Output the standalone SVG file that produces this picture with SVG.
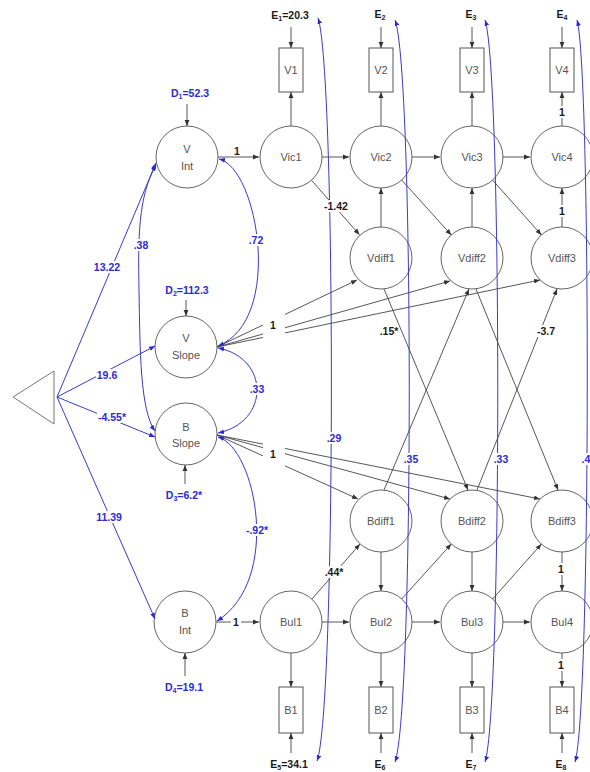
<svg xmlns="http://www.w3.org/2000/svg" width="590" height="772" viewBox="0 0 590 772">
<style>
  .n circle{fill:#fff;stroke:#666;stroke-width:1}
  .n rect{fill:#fff;stroke:#555;stroke-width:1}
  .n polygon{fill:#fff;stroke:#777;stroke-width:1}
  .n text{font-family:"Liberation Sans",Arial,sans-serif;font-size:11px;fill:#555;text-anchor:middle}
  .k{stroke:#444;stroke-width:0.9;fill:none;marker-end:url(#ak)}
  .b{stroke:#3a3ac8;stroke-width:1;fill:none;marker-end:url(#ab)}
  .bb{stroke:#3a3ac8;stroke-width:1;fill:none;marker-start:url(#ab);marker-end:url(#ab)}
  .bg{fill:#fff}
  .t{font-family:"Liberation Sans",Arial,sans-serif;font-size:10.5px;font-weight:bold;text-anchor:middle}
  .tk{fill:#1a1a1a}
  .tb{fill:#2b2bd0}
  .sub{font-size:7px}
</style>
<defs>
  <marker id="ak" viewBox="0 0 10 10" refX="10" refY="5" markerWidth="6" markerHeight="6" markerUnits="userSpaceOnUse" orient="auto-start-reverse">
    <path d="M0,1 L10,5 L0,9 z" fill="#333"/>
  </marker>
  <marker id="ab" viewBox="0 0 10 10" refX="10" refY="5" markerWidth="6" markerHeight="6" markerUnits="userSpaceOnUse" orient="auto-start-reverse">
    <path d="M0,1 L10,5 L0,9 z" fill="#2b2bd0"/>
  </marker>
</defs>
<rect width="590" height="772" fill="#fff"/>

<!-- nodes -->
<g id="const" class="n"><polygon points="13,397 54,371 54,424"/></g>
<g id="v-int" class="n"><circle cx="187" cy="157" r="31"/><text x="187" y="153">V</text><text x="187" y="170">Int</text></g>
<g id="v-slope" class="n"><circle cx="186" cy="347" r="31"/><text x="186" y="342">V</text><text x="186" y="359">Slope</text></g>
<g id="b-slope" class="n"><circle cx="186" cy="434" r="31"/><text x="186" y="431">B</text><text x="186" y="447">Slope</text></g>
<g id="b-int" class="n"><circle cx="185" cy="622" r="31"/><text x="185" y="617">B</text><text x="185" y="634">Int</text></g>

<g id="vic1" class="n"><circle cx="291" cy="157" r="31"/><text x="291" y="161">Vic1</text></g>
<g id="vic2" class="n"><circle cx="381" cy="157" r="31"/><text x="381" y="161">Vic2</text></g>
<g id="vic3" class="n"><circle cx="472" cy="157" r="31"/><text x="472" y="161">Vic3</text></g>
<g id="vic4" class="n"><circle cx="562" cy="157" r="31"/><text x="562" y="161">Vic4</text></g>

<g id="vdiff1" class="n"><circle cx="381" cy="258" r="31"/><text x="381" y="262">Vdiff1</text></g>
<g id="vdiff2" class="n"><circle cx="472" cy="258" r="31"/><text x="472" y="262">Vdiff2</text></g>
<g id="vdiff3" class="n"><circle cx="562" cy="258" r="31"/><text x="562" y="262">Vdiff3</text></g>

<g id="bdiff1" class="n"><circle cx="381" cy="521" r="31"/><text x="381" y="525">Bdiff1</text></g>
<g id="bdiff2" class="n"><circle cx="472" cy="521" r="31"/><text x="472" y="525">Bdiff2</text></g>
<g id="bdiff3" class="n"><circle cx="562" cy="521" r="31"/><text x="562" y="525">Bdiff3</text></g>

<g id="bul1" class="n"><circle cx="291" cy="622" r="31"/><text x="291" y="626">Bul1</text></g>
<g id="bul2" class="n"><circle cx="381" cy="622" r="31"/><text x="381" y="626">Bul2</text></g>
<g id="bul3" class="n"><circle cx="472" cy="622" r="31"/><text x="472" y="626">Bul3</text></g>
<g id="bul4" class="n"><circle cx="562" cy="622" r="31"/><text x="562" y="626">Bul4</text></g>

<g id="v1" class="n"><rect x="279" y="48" width="24" height="44"/><text x="291" y="74">V1</text></g>
<g id="v2" class="n"><rect x="369" y="48" width="24" height="44"/><text x="381" y="74">V2</text></g>
<g id="v3" class="n"><rect x="460" y="48" width="24" height="44"/><text x="472" y="74">V3</text></g>
<g id="v4" class="n"><rect x="550" y="48" width="24" height="44"/><text x="562" y="74">V4</text></g>

<g id="b1" class="n"><rect x="279" y="687" width="24" height="46"/><text x="291" y="714">B1</text></g>
<g id="b2" class="n"><rect x="369" y="687" width="24" height="46"/><text x="381" y="714">B2</text></g>
<g id="b3" class="n"><rect x="460" y="687" width="24" height="46"/><text x="472" y="714">B3</text></g>
<g id="b4" class="n"><rect x="550" y="687" width="24" height="46"/><text x="562" y="714">B4</text></g>

<!-- connectors -->
<g id="connectors">
  <!-- regression paths -->
  <path class="k" d="M218,157 L259,157"/>
  <path class="k" d="M322,157 L349,157"/>
  <path class="k" d="M412,157 L440,157"/>
  <path class="k" d="M503,157 L530,157"/>
  <path class="k" d="M291,126 L291,92"/>
  <path class="k" d="M381,126 L381,92"/>
  <path class="k" d="M472,126 L472,92"/>
  <path class="k" d="M562,126 L562,92"/>
  <path class="k" d="M291,27 L291,48"/>
  <path class="k" d="M381,27 L381,48"/>
  <path class="k" d="M472,27 L472,48"/>
  <path class="k" d="M562,27 L562,48"/>
  <path class="k" d="M311.5,180.3 L359.5,234.7"/>
  <path class="k" d="M401.7,180 L451.3,235"/>
  <path class="k" d="M492.6,180.1 L541.4,234.9"/>
  <path class="k" d="M381,227 L381,188"/>
  <path class="k" d="M472,227 L472,188"/>
  <path class="k" d="M562,227 L562,188"/>
  <path class="k" d="M217,347 L357,280"/>
  <path class="k" d="M217,347 L450,281"/>
  <path class="k" d="M217,347 L540,280"/>
  <path class="k" d="M217,435 L358,499"/>
  <path class="k" d="M217,435 L450,499"/>
  <path class="k" d="M217,435 L540,499"/>
  <path class="k" d="M384,289 L468,490"/>
  <path class="k" d="M384,490 L469,289"/>
  <path class="k" d="M476,289 L558,490"/>
  <path class="k" d="M477,490 L557,289"/>
  <path class="k" d="M312,599 L360,544"/>
  <path class="k" d="M401.7,599 L451.3,544"/>
  <path class="k" d="M492.6,599 L541.4,544"/>
  <path class="k" d="M381,552 L381,591"/>
  <path class="k" d="M472,552 L472,591"/>
  <path class="k" d="M562,552 L562,591"/>
  <path class="k" d="M216,622 L259,622"/>
  <path class="k" d="M322,622 L349,622"/>
  <path class="k" d="M412,622 L440,622"/>
  <path class="k" d="M503,622 L530,622"/>
  <path class="k" d="M291,653 L291,687"/>
  <path class="k" d="M381,653 L381,687"/>
  <path class="k" d="M472,653 L472,687"/>
  <path class="k" d="M562,653 L562,687"/>
  <path class="k" d="M291,753 L291,733"/>
  <path class="k" d="M381,753 L381,733"/>
  <path class="k" d="M472,753 L472,733"/>
  <path class="k" d="M562,753 L562,733"/>
  <path class="k" d="M187,104 L187,126"/>
  <path class="k" d="M186,300 L186,316"/>
  <path class="k" d="M185,484 L185,465"/>
  <path class="k" d="M185,676 L185,653"/>

  <!-- means from the constant -->
  <path class="b" d="M57,397 L156,163"/>
  <path class="b" d="M57,397 L155,346"/>
  <path class="b" d="M57,397 L155,437"/>
  <path class="b" d="M57,397 L155,619"/>

  <!-- covariances -->
  <path class="bb" d="M156,165 C138,196 138,240 139,290 C140,350 140,410 155,431"/>
  <path class="bb" d="M219,159 C258,168 284,320 218,346"/>
  <path class="bb" d="M218,348 C270,358 270,422 218,433"/>
  <path class="bb" d="M218,437 C256,448 282,580 217,621"/>
  <path class="bb" d="M318,18 C336,70 336,710 317,761"/>
  <path class="bb" d="M395,20 C414,70 414,710 395,762"/>
  <path class="bb" d="M485,20 C502,70 502,710 485,762"/>
  <path class="bb" d="M577,20 C591,70 591,710 575,762"/>

  <!-- label backgrounds -->
  <rect class="bg" x="263" y="314" width="22" height="25"/>
  <rect class="bg" x="263" y="442" width="22" height="25"/>
  <rect class="bg" x="93" y="261" width="28" height="12"/>
  <rect class="bg" x="96" y="369" width="22" height="12"/>
  <rect class="bg" x="97" y="411" width="30" height="12"/>
  <rect class="bg" x="95" y="511" width="28" height="12"/>
  <rect class="bg" x="133" y="239" width="16" height="12"/>
  <rect class="bg" x="248" y="234" width="16" height="12"/>
  <rect class="bg" x="249" y="383" width="16" height="12"/>
  <rect class="bg" x="245" y="524" width="24" height="12"/>
  <rect class="bg" x="326" y="432" width="16" height="12"/>
  <rect class="bg" x="403" y="453" width="16" height="12"/>
  <rect class="bg" x="493" y="453" width="16" height="12"/>
  <rect class="bg" x="581" y="453" width="10" height="12"/>
  <rect class="bg" x="324" y="200" width="25" height="12"/>
  <rect class="bg" x="379" y="325" width="20" height="12"/>
  <rect class="bg" x="536" y="325" width="20" height="12"/>
  <rect class="bg" x="324" y="566" width="20" height="12"/>
  <rect class="bg" x="557" y="106" width="10" height="12"/>
  <rect class="bg" x="557" y="205" width="10" height="12"/>
  <rect class="bg" x="556" y="563" width="10" height="12"/>
  <rect class="bg" x="556" y="659" width="10" height="12"/>
  <rect class="bg" x="231" y="616" width="10" height="12"/>

  <!-- path labels -->
  <g class="t tk">
    <text x="237" y="155">1</text>
    <text x="336" y="210">-1.42</text>
    <text x="562" y="116">1</text>
    <text x="562" y="215">1</text>
    <text x="273" y="329">1</text>
    <text x="389" y="335">.15*</text>
    <text x="546" y="335">-3.7</text>
    <text x="273" y="458">1</text>
    <text x="334" y="576">.44*</text>
    <text x="561" y="573">1</text>
    <text x="236" y="626">1</text>
    <text x="561" y="669">1</text>
    <text x="290" y="19">E<tspan class="sub" dy="2">1</tspan><tspan dy="-2">=20.3</tspan></text>
    <text x="380" y="18">E<tspan class="sub" dy="2">2</tspan></text>
    <text x="471" y="18">E<tspan class="sub" dy="2">3</tspan></text>
    <text x="562" y="18">E<tspan class="sub" dy="2">4</tspan></text>
    <text x="289" y="768">E<tspan class="sub" dy="2">5</tspan><tspan dy="-2">=34.1</tspan></text>
    <text x="380" y="768">E<tspan class="sub" dy="2">6</tspan></text>
    <text x="471" y="768">E<tspan class="sub" dy="2">7</tspan></text>
    <text x="561" y="768">E<tspan class="sub" dy="2">8</tspan></text>
  </g>
  <g class="t tb">
    <text x="107" y="271">13.22</text>
    <text x="107" y="379">19.6</text>
    <text x="112" y="421">-4.55*</text>
    <text x="109" y="521">11.39</text>
    <text x="141" y="249">.38</text>
    <text x="256" y="244">.72</text>
    <text x="257" y="393">.33</text>
    <text x="257" y="534">-.92*</text>
    <text x="334" y="442">.29</text>
    <text x="411" y="463">.35</text>
    <text x="501" y="463">.33</text>
    <text x="586" y="463">.4</text>
    <text x="190" y="97">D<tspan class="sub" dy="2">1</tspan><tspan dy="-2">=52.3</tspan></text>
    <text x="187" y="294">D<tspan class="sub" dy="2">2</tspan><tspan dy="-2">=112.3</tspan></text>
    <text x="184" y="499">D<tspan class="sub" dy="2">3</tspan><tspan dy="-2">=6.2*</tspan></text>
    <text x="184" y="691">D<tspan class="sub" dy="2">4</tspan><tspan dy="-2">=19.1</tspan></text>
  </g>
</g>
</svg>
